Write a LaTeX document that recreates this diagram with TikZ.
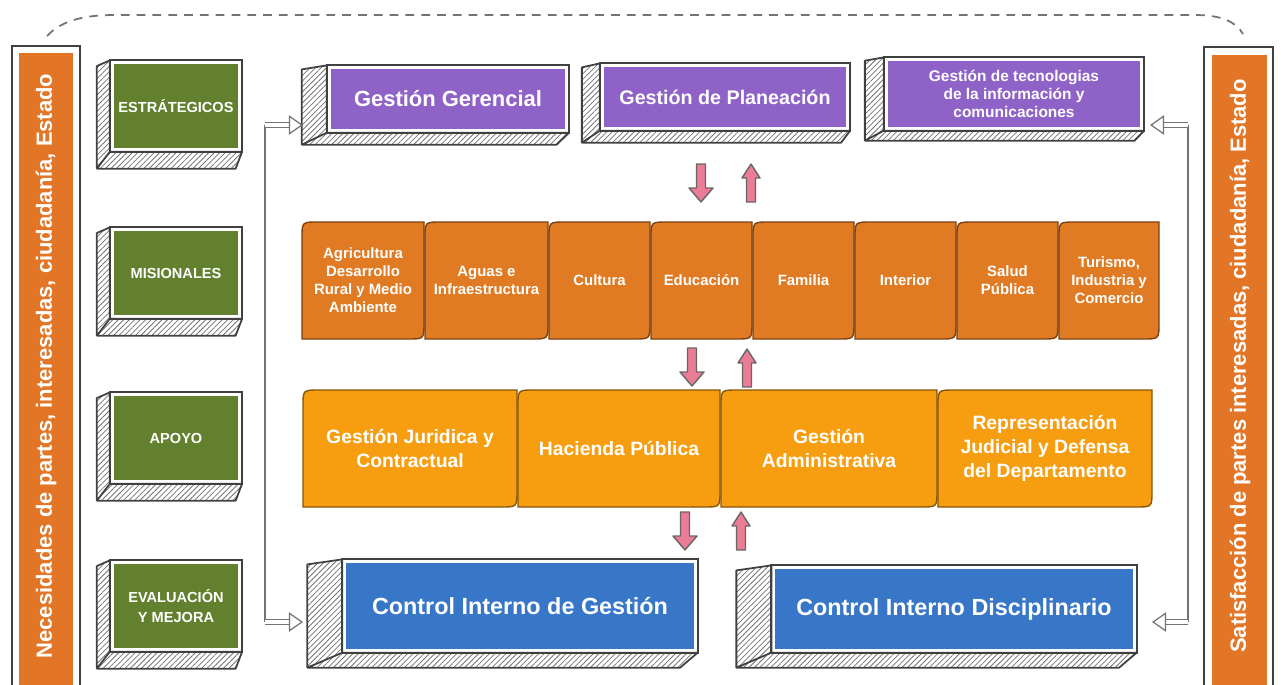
\documentclass[tikz,border=0pt]{standalone}
\usepackage{fontspec}
\setmainfont{Liberation Sans}
\usetikzlibrary{patterns.meta,arrows.meta}
\tikzset{>=latex}
\newcommand\pxu{0.02cm}
\definecolor{slabgreen}{RGB}{98,128,46}
\definecolor{slabpurple}{RGB}{143,98,200}
\definecolor{slabblue}{RGB}{56,118,200}
\definecolor{misorange}{RGB}{224,122,35}
\definecolor{apoorange}{RGB}{246,158,16}
\definecolor{barorange}{RGB}{226,118,38}
\definecolor{arrowpink}{RGB}{234,124,150}
\colorlet{edgegray}{black!75}
\tikzset{
  slab/.style={fill=#1,draw=white,line width=1.6pt,outer sep=1.5pt,inner sep=1pt,
               text=white,align=center},
  slabside/.style={pattern={Lines[angle=45,distance=2.2pt,line width=.45pt]},
                   pattern color=black!55,
                   draw=edgegray,line width=1pt,line join=round},
  slabedge/.style={draw=edgegray,line width=1.2pt},
  leaf/.style={fill=#1,draw=black!45!#1,line width=.8pt},
  leaftext/.style={text=white,align=center},
  greenfont/.style={font=\fontsize{8.3}{11.3}\selectfont\bfseries},
  bartext/.style={text=white,font=\fontsize{12.5}{14}\selectfont\bfseries},
  flowline/.style={draw=black!55,line width=.9pt},
  hollow/.style={draw=black!55,line width=.7pt,double=white,double distance=2pt,
                 -{Triangle[open,length=8pt,width=11pt]}},
}
\tikzset{
  pinkarrow/.pic={
    \tikzset{/pinkarrow/.cd,#1}
    \draw[fill=arrowpink,draw=black!60,line width=.8pt,line join=round]
      (-\shaftw,\alen) -- (-\shaftw,-\alen+\headl) -- (-\headw,-\alen+\headl)
      -- (0,-\alen) -- (\headw,-\alen+\headl) -- (\shaftw,-\alen+\headl)
      -- (\shaftw,\alen) -- cycle;
  },
  /pinkarrow/.search also={/tikz},
  /pinkarrow/.cd,
  alen/.store in=\alen, alen=19,
  headw/.store in=\headw, headw=11,
  headl/.store in=\headl, headl=14,
  shaftw/.store in=\shaftw, shaftw=4.5,
}
% hatched sides of a slab: node, dx, dy
\newcommand\slabsides[3]{%
  \draw[slabside] (#1.north west) -- ([shift={(-#2,#3/3)}]#1.north west)
    -- ([shift={(-#2,#3)}]#1.south west) -- ([shift={(-#2/2,#3)}]#1.south east)
    -- (#1.south east) -- (#1.south west) -- cycle
    (#1.south west) -- ([shift={(-#2,#3)}]#1.south west);
  \draw[slabedge] (#1.north west) rectangle (#1.south east);
}
% box with two rounded corners: name, x1, y1, x2, y2, colour, text
\newcommand\leafbox[7]{%
  \draw[leaf=#6] (#2,#5) -- (#2,#3+16) .. controls (#2,#3) .. (#2+16,#3)
    -- (#4,#3) -- (#4,#5-16) .. controls (#4,#5) .. (#4-16,#5) -- cycle;
  \node[leaftext] (#1) at ({(#2+#4)/2},{(#3+#5)/2}) {#7};
}

\begin{document}
\begin{tikzpicture}[x=0.02cm,y=-0.02cm]
  \useasboundingbox (0,0) rectangle (1281,684);
  \draw[black!55,line width=1pt,dash pattern=on 5pt off 4pt]
    (47,36) .. controls (62,20) and (85,15) .. (115,15) -- (1195,15)
    .. controls (1222,15) and (1236,22) .. (1243,34);

  % side bars
  \draw[edgegray,line width=1.2pt,fill=white] (12,46) rectangle (80,695);
  \fill[barorange] (19,53) rectangle (73,695);
  \node[bartext,rotate=90] (needs) at (46,366)
    {Necesidades de partes, interesadas, ciudadanía, Estado};
  \draw[edgegray,line width=1.2pt,fill=white] (1204,47) rectangle (1273,695);
  \fill[barorange] (1212,55) rectangle (1267,695);
  \node[bartext,rotate=90] (satis) at (1240,366)
    {Satisfacción de partes interesadas, ciudadanía, Estado};

  % process levels
  \node[slab=slabgreen,greenfont,minimum width=127*\pxu,minimum height=86*\pxu]
    (estr) at (176,106) {ESTRÁTEGICOS};
  \node[slab=slabgreen,greenfont,minimum width=127*\pxu,minimum height=86*\pxu]
    (misi) at (176,273) {MISIONALES};
  \node[slab=slabgreen,greenfont,minimum width=127*\pxu,minimum height=86*\pxu]
    (apoyo) at (176,438) {APOYO};
  \node[slab=slabgreen,greenfont,minimum width=127*\pxu,minimum height=86*\pxu]
    (evalu) at (176,606) {EVALUACIÓN\\Y MEJORA};
  \slabsides{estr}{13}{17}
  \slabsides{misi}{13}{17}
  \slabsides{apoyo}{13}{17}
  \slabsides{evalu}{13}{17}

  % strategic
  \node[slab=slabpurple,font=\fontsize{12.5}{14}\selectfont\bfseries,
        minimum width=237*\pxu,minimum height=62*\pxu]
    (gerencial) at (448,99) {Gestión Gerencial};
  \node[slab=slabpurple,font=\fontsize{11.2}{14}\selectfont\bfseries,
        minimum width=245*\pxu,minimum height=62*\pxu]
    (planea) at (725,97) {Gestión de Planeación};
  \node[slab=slabpurple,font=\fontsize{8.8}{10.2}\selectfont\bfseries,
        minimum width=255*\pxu,minimum height=68*\pxu]
    (tecno) at (1014,94) {Gestión de tecnologias\\de la información y\\comunicaciones};
  \slabsides{gerencial}{25}{12}
  \slabsides{planea}{18}{12}
  \slabsides{tecno}{19}{10}

  % missional
  \begin{scope}[font=\fontsize{8.5}{10.2}\selectfont\bfseries]
    \leafbox{agri}{302}{222}{424}{339}{misorange}{Agricultura\\Desarrollo\\Rural y Medio\\Ambiente}
    \leafbox{aguas}{425}{222}{548}{339}{misorange}{Aguas e\\Infraestructura}
    \leafbox{cultura}{549}{222}{650}{339}{misorange}{Cultura}
    \leafbox{educa}{651}{222}{752}{339}{misorange}{Educación}
    \leafbox{familia}{753}{222}{854}{339}{misorange}{Familia}
    \leafbox{interior}{855}{222}{956}{339}{misorange}{Interior}
    \leafbox{salud}{957}{222}{1058}{339}{misorange}{Salud\\Pública}
    \leafbox{turismo}{1059}{222}{1159}{339}{misorange}{Turismo,\\Industria y\\Comercio}
  \end{scope}

  % support
  \begin{scope}[font=\fontsize{11}{13.6}\selectfont\bfseries]
    \leafbox{juridica}{303}{390}{517}{507}{apoorange}{Gestión Juridica y\\Contractual}
    \leafbox{hacienda}{518}{390}{720}{507}{apoorange}{Hacienda Pública}
    \leafbox{admin}{721}{390}{937}{507}{apoorange}{Gestión\\Administrativa}
    \leafbox{repres}{938}{390}{1152}{507}{apoorange}{Representación\\Judicial y Defensa\\del Departamento}
  \end{scope}

  % control
  \node[slab=slabblue,font=\fontsize{13.3}{15}\selectfont\bfseries,
        minimum width=350*\pxu,minimum height=88*\pxu]
    (cig) at (520,606) {Control Interno de Gestión};
  \node[slab=slabblue,font=\fontsize{13.3}{15}\selectfont\bfseries,
        minimum width=360*\pxu,minimum height=82*\pxu]
    (cid) at (954,609) {Control Interno Disciplinario};
  \slabsides{cig}{35}{15}
  \slabsides{cid}{35}{15}

  % exchange between levels
  \pic[rotate=180] at (701,183) {pinkarrow={headw=12}};
  \pic at (751,183) {pinkarrow={headw=9}};
  \pic[rotate=180] at (692,367) {pinkarrow={headw=12}};
  \pic at (747,368) {pinkarrow={headw=9}};
  \pic[rotate=180] at (685,531) {pinkarrow={headw=12}};
  \pic at (741,531) {pinkarrow={headw=9}};

  % inputs and outputs
  \coordinate (lt) at (265,125);
  \coordinate (lb) at (265,622);
  \coordinate (gerin) at (303,125);
  \coordinate (cigin) at (303,622);
  \coordinate (rt) at (1188,125);
  \coordinate (rb) at (1188,622);
  \coordinate (tecin) at (1150,125);
  \coordinate (cidin) at (1152,622);
  \draw[flowline] (lt) -- (lb);
  \draw[flowline] (rt) -- (rb);
  \draw[hollow] (lt) -- (gerin);
  \draw[hollow] (lb) -- (cigin);
  \draw[hollow] (rt) -- (tecin);
  \draw[hollow] (rb) -- (cidin);
\end{tikzpicture}
\end{document}
